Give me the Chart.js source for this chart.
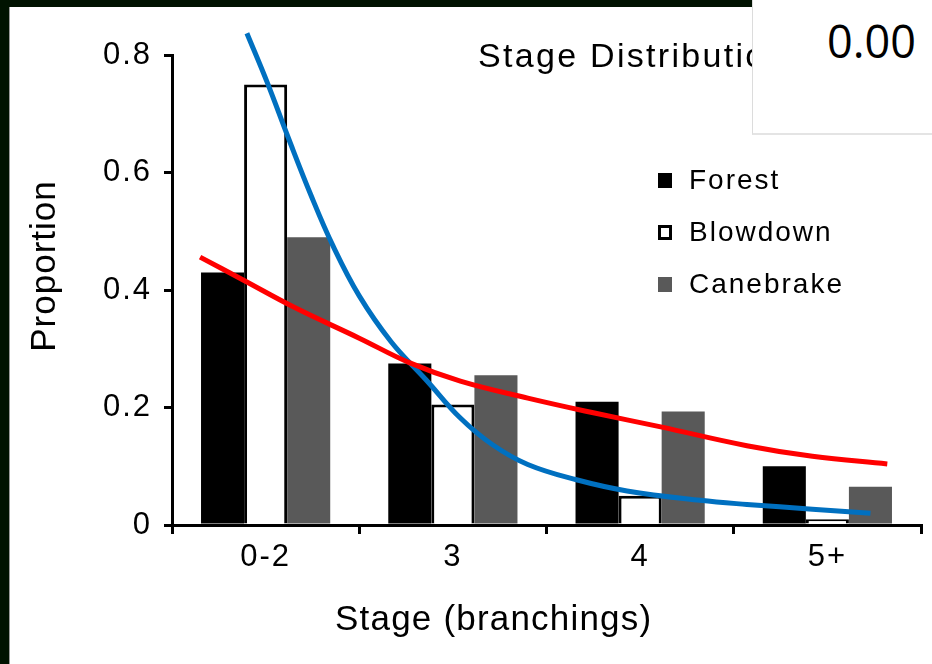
<!DOCTYPE html>
<html>
<head>
<meta charset="utf-8">
<script src="https://cdn.jsdelivr.net/npm/chart.js@4.4.1/dist/chart.umd.min.js"></script>
<style>
  html, body { margin: 0; padding: 0; background: #ffffff; }
  #wrap { position: relative; width: 932px; height: 664px; overflow: hidden; background: #ffffff; }
  #frameLeft { position: absolute; left: 0; top: 0; width: 9px; height: 664px; background: #011301; border-right: 1px solid #9a9a9a; }
  #frameTop { position: absolute; left: 0; top: 0; width: 752px; height: 7px; background: #011301; }
  #valueBox { position: absolute; left: 752px; top: 0; width: 180px; height: 135px; background: #ffffff;
              border-left: 1px solid #dcdcdc; border-bottom: 2px solid #e4e4e4; box-sizing: border-box; }
  #valueBox span { position: absolute; left: 74px; top: 18px; font: 45px "Open Sans", "Noto Sans", sans-serif; line-height: 1; color: #000; }
  canvas { position: absolute; left: 0; top: 0; }
</style>
</head>
<body>
<div id="wrap">
  <canvas id="stageChart" width="932" height="664"></canvas>
  <div id="frameLeft"></div>
  <div id="frameTop"></div>
  <div id="valueBox"><span>0.00</span></div>
</div>
<script>
// bars
const stages = ['0-2', '3', '4', '5+'];
const forest = [0.43, 0.275, 0.21, 0.10];
const blowdown = [0.75, 0.205, 0.05, 0.01];
const canebrake = [0.49, 0.255, 0.193, 0.065];
const yTicks = [0, 0.2, 0.4, 0.6, 0.8];

// fitted curves (x in category units: 0 = left edge of '0-2', 4 = right end of axis)
const blueX = [0.40, 0.51, 0.62, 0.74, 0.86, 1.00, 1.17, 1.36, 1.54, 1.71, 1.90, 2.16, 2.43, 2.82, 3.07, 3.42, 3.73];
const blueY = [0.837, 0.752, 0.660, 0.563, 0.475, 0.390, 0.312, 0.246, 0.182, 0.137, 0.103, 0.077, 0.058, 0.042, 0.035, 0.027, 0.020];
const redX = [0.15, 0.38, 0.65, 1.00, 1.27, 1.54, 1.90, 2.25, 2.61, 3.07, 3.42, 3.82];
const redY = [0.456, 0.417, 0.371, 0.318, 0.276, 0.245, 0.216, 0.191, 0.167, 0.135, 0.117, 0.104];

const legendItems = [
    { label: 'Forest', fill: '#000000', stroke: null },
    { label: 'Blowdown', fill: '#ffffff', stroke: '#000000' },
    { label: 'Canebrake', fill: '#595959', stroke: null }
];

const FONT = '"Liberation Sans", Arial, sans-serif';

// bars sit in the middle of each stage slot on the shared linear x axis
function barPoints(values) {
    return values.map((v, i) => ({ x: i + 0.5, y: v }));
}

const textPlugin = {
    id: 'textPlugin',
    beforeDraw(chart) {
        chart.ctx.letterSpacing = '2px';
    },
    afterDraw(chart) {
        const ctx = chart.ctx;
        ctx.save();
        ctx.fillStyle = '#000';
        ctx.textBaseline = 'alphabetic';
        ctx.textAlign = 'left';

        // title (partly hidden by the box on the right)
        ctx.letterSpacing = '2.3px';
        ctx.font = '34px ' + FONT;
        ctx.fillText('Stage Distribution', 478, 67);

        // x axis title
        ctx.letterSpacing = '1.2px';
        ctx.font = '35px ' + FONT;
        ctx.fillText('Stage (branchings)', 335, 630);

        // y axis title
        ctx.save();
        ctx.translate(55, 266);
        ctx.rotate(-Math.PI / 2);
        ctx.textAlign = 'center';
        ctx.letterSpacing = '1px';
        ctx.fillText('Proportion', 0, 0);
        ctx.restore();

        // legend
        ctx.letterSpacing = '2px';
        ctx.font = '28px ' + FONT;
        legendItems.forEach((item, i) => {
            const cy = 180 + i * 52;
            ctx.fillStyle = item.fill;
            ctx.fillRect(658, cy - 7, 14, 15);
            if (item.stroke) {
                ctx.strokeStyle = item.stroke;
                ctx.lineWidth = 3;
                ctx.strokeRect(659.5, cy - 5.5, 11, 12);
            }
            ctx.fillStyle = '#000';
            ctx.textBaseline = 'middle';
            ctx.fillText(item.label, 689, cy + 1);
        });
        ctx.restore();
        ctx.letterSpacing = '0px';
    }
};

new Chart(document.getElementById('stageChart'), {
    type: 'bar',
    data: {
        labels: stages,
        datasets: [{
            label: 'Forest',
            data: barPoints(forest),
            xAxisID: 'x',
            backgroundColor: '#000000',
            borderWidth: 0,
            order: 2
        }, {
            label: 'Blowdown',
            data: barPoints(blowdown),
            xAxisID: 'x',
            backgroundColor: '#ffffff',
            borderColor: '#000000',
            borderWidth: 3,
            order: 2
        }, {
            label: 'Canebrake',
            data: barPoints(canebrake),
            xAxisID: 'x',
            backgroundColor: '#595959',
            borderWidth: 0,
            order: 2
        }, {
            type: 'line',
            label: 'Blowdown fit',
            data: blueX.map((x, i) => ({ x: x, y: blueY[i] })),
            xAxisID: 'x',
            borderColor: '#0070c0',
            borderWidth: 5,
            pointRadius: 0,
            tension: 0.4,
            clip: false,
            order: 1
        }, {
            type: 'line',
            label: 'Forest/Canebrake fit',
            data: redX.map((x, i) => ({ x: x, y: redY[i] })),
            xAxisID: 'x',
            borderColor: '#ff0000',
            borderWidth: 5,
            pointRadius: 0,
            tension: 0.4,
            clip: false,
            order: 0
        }]
    },
    options: {
        responsive: false,
        animation: false,
        datasets: {
            bar: { categoryPercentage: 0.69, barPercentage: 1.0 }
        },
        layout: { padding: { top: 55, right: 11, left: 0, bottom: 0 } },
        plugins: {
            legend: { display: false },
            tooltip: { enabled: false }
        },
        scales: {
            x: {
                type: 'linear',
                display: false,
                offset: false,
                min: 0,
                max: 4,
                ticks: { stepSize: 1 }
            },
            xc: {
                type: 'category',
                axis: 'x',
                position: 'bottom',
                labels: stages,
                offset: true,
                grid: { offset: true, drawOnChartArea: false, color: '#000', lineWidth: 3, tickLength: 9 },
                border: { color: '#000', width: 3 },
                ticks: { color: '#000', font: { family: FONT, size: 31 }, padding: 5, maxRotation: 0 },
                afterFit(scale) { scale.height = 139; }
            },
            y: {
                min: 0,
                max: 0.8,
                afterBuildTicks(scale) { scale.ticks = yTicks.map(v => ({ value: v })); },
                grid: { drawOnChartArea: false, color: '#000', lineWidth: 3, tickLength: 8 },
                border: { color: '#000', width: 3 },
                ticks: {
                    color: '#000',
                    font: { family: FONT, size: 31 },
                    padding: 12,
                    callback: function (value) {
                        return value === 0 ? '0' : value.toFixed(1);
                    }
                },
                afterFit(scale) { scale.width = 172; }
            }
        }
    },
    plugins: [textPlugin]
});
</script>
</body>
</html>
